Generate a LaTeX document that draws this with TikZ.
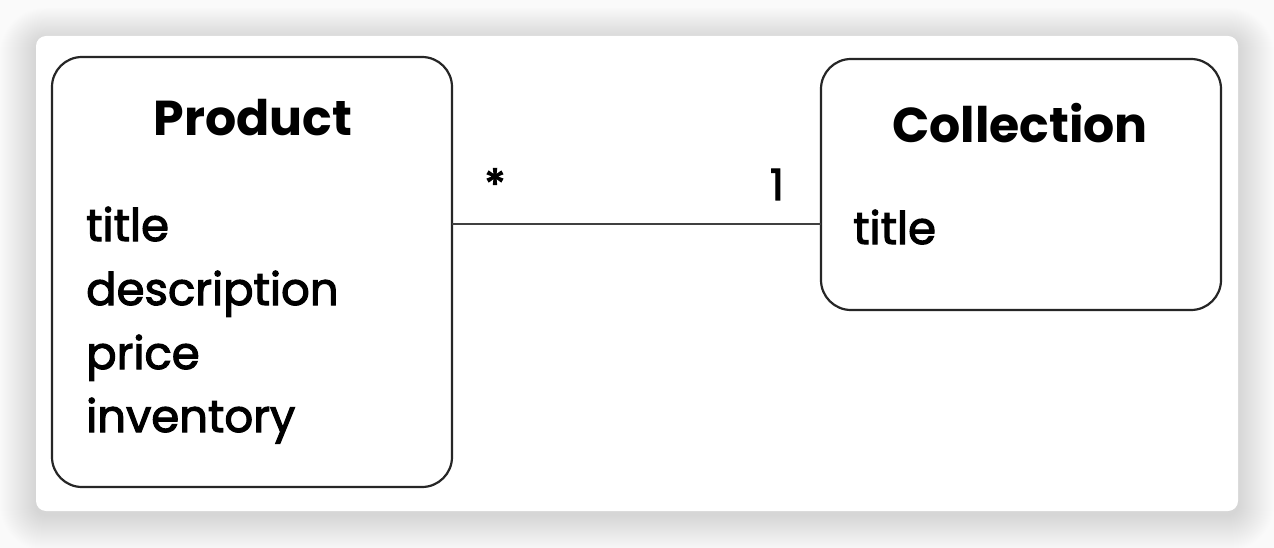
\documentclass[tikz,border=0pt]{standalone}
\usepackage{fontspec}
\setmainfont{Poppins}
\newfontfamily\heavyfont[FakeBold=2.5]{Poppins}
\begin{document}
\begin{tikzpicture}[x=1pt,y=-1pt,
  entity/.style={draw=black!85,line width=2.2pt,rounded corners=30pt},
  attr/.style={anchor=base west,inner sep=0pt,font=\heavyfont\fontsize{45}{47}\selectfont},
  ttl/.style={anchor=base,inner sep=0pt,font=\fontsize{49}{51}\selectfont\bfseries},
  mult/.style={anchor=base,inner sep=0pt,font=\heavyfont\fontsize{43}{45}\selectfont}]
\useasboundingbox (0,0) rectangle (1274,548);
\fill[black!2] (0,0) rectangle (1274,548);
% shadow
\foreach \i in {1,...,36}{
  \fill[black,opacity=0.0045,rounded corners={10pt+\i*1pt}]
    (36-\i*1.0,36-\i*0.9+4) rectangle (1238+\i*1.0,511+\i*1.0+4);
}
\fill[white,rounded corners=10pt] (36,36) rectangle (1238,511);
% boxes
\draw[entity] (52,57) rectangle (452,487);
\draw[entity] (821,59) rectangle (1221,310);
\coordinate (pe) at (452,224);
\coordinate (ce) at (821,224);
\draw[black!75,line width=2.2pt] (pe) -- (ce);
\node[ttl] (pt) at (253,136) {Product};
\node[attr] (a1) at (86,241) {title};
\node[attr] (a2) at (86,305) {description};
\node[attr] (a3) at (86,369) {price};
\node[attr] (a4) at (86,432) {inventory};
\node[ttl] (ct) at (1020,143) {Collection};
\node[attr] (c1) at (853,244) {title};
\node[mult] (m1) at (495,200) {*};
\node[mult] (m2) at (777,200) {1};
\end{tikzpicture}
\end{document}
